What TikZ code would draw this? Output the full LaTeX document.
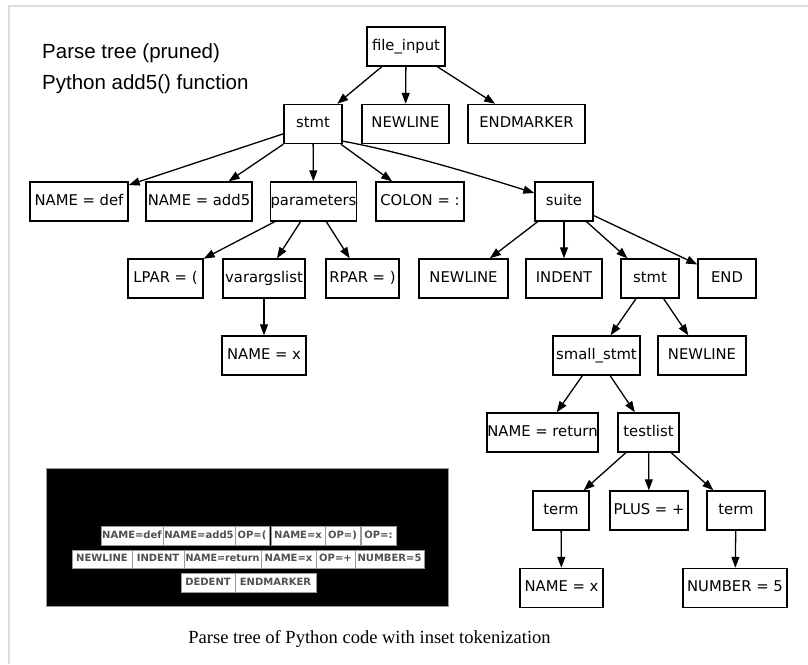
\documentclass[tikz,border=0pt]{standalone}
\usepackage{fontspec}
\usepackage{graphicx}
\usetikzlibrary{arrows.meta}
\newfontfamily\dvfont{DejaVu Sans}
\newfontfamily\titlefont{Liberation Sans}
\newfontfamily\capfont{Liberation Serif}
\definecolor{framegray}{HTML}{DDDDDD}
\definecolor{tokgray}{HTML}{505050}
\definecolor{tokedge}{HTML}{999999}
\begin{document}
\begin{tikzpicture}[x=1pt,y={(0pt,-1pt)},
  box/.style={draw=black,line width=1.4pt,minimum height=39pt,inner sep=0pt,
    text height=10.8pt,text depth=3pt,font=\dvfont\fontsize{14.8}{17}\selectfont},
  arr/.style={line width=1.3pt,-{Triangle[length=11pt,width=8pt]}},
  tok/.style={draw=tokedge,fill=white,line width=0.8pt,inner sep=0pt,
    text height=7.4pt,text depth=2pt,text=tokgray,
    font=\dvfont\bfseries\fontsize{10}{12}\selectfont},
  ttl/.style={anchor=base west,inner sep=0pt,font=\titlefont\fontsize{20.5}{24}\selectfont},
  captext/.style={anchor=base,inner sep=0pt,font=\capfont\fontsize{18.5}{22}\selectfont}
]
\useasboundingbox (0,0) rectangle (808,664);
% frame
\draw[framegray,line width=2pt] (9,664) -- (9,5.5) -- (808,5.5);

% titles
\node[ttl] (t1line) at (42,58) {Parse tree (pruned)};
\node[ttl] (t2line) at (42,89) {Python add5() function};

% tree nodes
\node[box,minimum width=78pt]  (fi)  at (406,46.5)  {file\_input};
\node[box,minimum width=58pt]  (st)  at (313,124)   {stmt};
\node[box,minimum width=87pt]  (nla) at (405.5,124) {NEWLINE};
\node[box,minimum width=117pt] (em)  at (526.5,124) {ENDMARKER};
\node[box,minimum width=98pt]  (nd)  at (79,201.5)  {NAME = def};
\node[box,minimum width=106pt] (na)  at (199,201.5) {NAME = add5};
\node[box,minimum width=83pt]  (pa)  at (313.5,201.5) {parameters};
\node[box,minimum width=88pt]  (co)  at (420,201.5) {COLON = :};
\node[box,minimum width=58pt]  (su)  at (564,201.5) {suite};
\node[box,minimum width=75pt]  (lp)  at (165.5,278.5) {LPAR = (};
\node[box,minimum width=82pt]  (va)  at (264,278.5) {varargslist};
\node[box,minimum width=73pt]  (rp)  at (362.5,278.5) {RPAR = )};
\node[box,minimum width=84pt]  (nx)  at (264,355.5) {NAME = x};
\node[box,minimum width=89pt]  (nlb) at (463.5,278.5) {NEWLINE};
\node[box,minimum width=76pt]  (ind) at (564,278.5) {INDENT};
\node[box,minimum width=58pt]  (stb) at (650,278.5) {stmt};
\node[box,minimum width=58pt]  (en)  at (727,278.5) {END};
\node[box,minimum width=87pt]  (ss)  at (596.5,355.5) {small\_stmt};
\node[box,minimum width=88pt]  (nlc) at (702,355.5) {NEWLINE};
\node[box,minimum width=111pt] (nr)  at (542.5,432.5) {NAME = return};
\node[box,minimum width=61pt]  (tl)  at (648.5,432.5) {testlist};
\node[box,minimum width=56pt]  (tma) at (561,510.5) {term};
\node[box,minimum width=78pt]  (pl)  at (649,510.5) {PLUS = +};
\node[box,minimum width=58pt]  (tmb) at (736,510.5) {term};
\node[box,minimum width=83pt]  (nxb) at (561.5,588) {NAME = x};
\node[box,minimum width=104pt] (n5)  at (735,588)   {NUMBER = 5};

% edges
\draw[arr] (fi) -- (st);
\draw[arr] (fi) -- (nla);
\draw[arr] (fi) -- (em);
\draw[arr] (st) -- (nd);
\draw[arr] (st) -- (na);
\draw[arr] (st) -- (pa);
\draw[arr] (st) -- (co);
\draw[arr] (st.-30) .. controls (402,152) and (475,174.4) .. (su.164);
\draw[arr] (pa) -- (lp);
\draw[arr] (pa) -- (va);
\draw[arr] (pa) -- (rp);
\draw[arr] (va) -- (nx);
\draw[arr] (su) -- (nlb);
\draw[arr] (su) -- (ind);
\draw[arr] (su) -- (stb);
\draw[arr] (su) -- (en);
\draw[arr] (stb) -- (ss);
\draw[arr] (stb) -- (nlc);
\draw[arr] (ss) -- (nr);
\draw[arr] (ss) -- (tl);
\draw[arr] (tl) -- (tma);
\draw[arr] (tl) -- (pl);
\draw[arr] (tl) -- (tmb);
\draw[arr] (tma) -- (nxb);
\draw[arr] (tmb) -- (n5);

% inset tokenization
\draw[draw=tokedge,fill=black,line width=0.8pt] (46,468) rectangle (448,606);
\node[tok,minimum width=62pt,minimum height=19pt] (k1)  at (132,535.5)   {NAME=def};
\node[tok,minimum width=72pt,minimum height=19pt] (k2)  at (199,535.5)   {NAME=add5};
\node[tok,minimum width=34pt,minimum height=19pt] (k3)  at (252,535.5)   {OP=(};
\node[tok,minimum width=54pt,minimum height=19pt] (k4)  at (298,535.5)   {NAME=x};
\node[tok,minimum width=35pt,minimum height=19pt] (k5)  at (342.5,535.5) {OP=)};
\node[tok,minimum width=35pt,minimum height=19pt] (k6)  at (378.5,535.5) {OP=:};
\node[tok,minimum width=60pt,minimum height=18pt] (k7)  at (102,559)     {NEWLINE};
\node[tok,minimum width=52pt,minimum height=18pt] (k8)  at (158,559)     {INDENT};
\node[tok,minimum width=77pt,minimum height=18pt] (k9)  at (222.5,559)   {\scalebox{0.96}[1]{NAME=return}};
\node[tok,minimum width=55pt,minimum height=18pt] (k10) at (288.5,559)   {NAME=x};
\node[tok,minimum width=39pt,minimum height=18pt] (k11) at (335.5,559)   {OP=+};
\node[tok,minimum width=69pt,minimum height=18pt] (k12) at (389.5,559)   {NUMBER=5};
\node[tok,minimum width=54pt,minimum height=19pt] (k13) at (208,582.5)   {DEDENT};
\node[tok,minimum width=81pt,minimum height=19pt] (k14) at (275.5,582.5) {ENDMARKER};

% caption
\node[captext] (caption) at (369.5,643) {Parse tree of Python code with inset tokenization};
\end{tikzpicture}
\end{document}
